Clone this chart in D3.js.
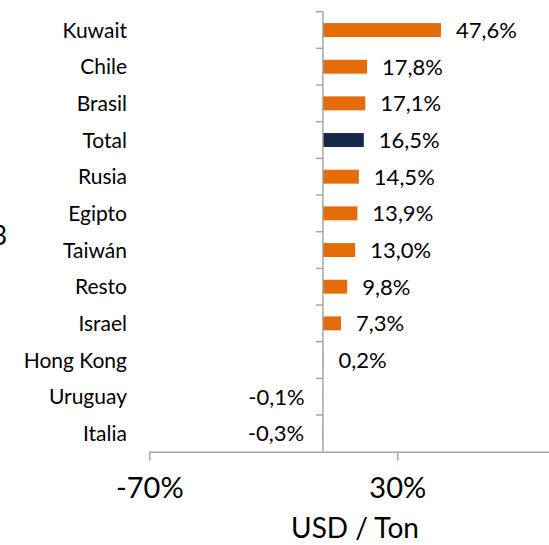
<!DOCTYPE html>
<html>
<head>
<meta charset="utf-8">
<script src="https://cdn.jsdelivr.net/npm/d3@7"></script>
<style>
  body { margin: 0; background: #fff; }
  svg { display: block; font-family: Lato, "Open Sans", sans-serif; }
</style>
</head>
<body>
<svg id="chart" width="549" height="545"></svg>
<script>
(() => {
  'use strict';

  const countries = ["Kuwait", "Chile", "Brasil", "Total", "Rusia", "Egipto", "Taiwán", "Resto", "Israel", "Hong Kong", "Uruguay", "Italia"];
  const changes = [47.6, 17.8, 17.1, 16.5, 14.5, 13.9, 13.0, 9.8, 7.3, 0.2, -0.1, -0.3];
  const xTicks = [-70, 30];
  const axisTitle = "USD / Ton";

  const orange = "#e46c0a", navy = "#15294a", axisGrey = "#a6a6a6";

  let svg = d3.select("#chart");

  // domain runs past the right edge, the picture is cropped there
  let x = d3.scaleLinear().domain([-70, 130]).range([149.3, 645.3]);
  let y = d3.scaleBand().domain(countries).range([11.7, 451.7])
    .paddingInner(0.62).paddingOuter(0.31);
  // category boundaries for the little ticks on the vertical axis
  let yEdge = d3.scaleLinear().domain([0, countries.length]).range([11.7, 451.7]);

  let fmt = v => d3.format(".1f")(v).replace(".", ",").replace("−", "-") + "%";

  let data = countries.map((c, i) => ({ name: c, value: changes[i] }));

  // bars
  svg.append("g").selectAll("rect")
    .data(data)
    .join("rect")
      .attr("x", d => x(Math.min(0, d.value)))
      .attr("y", d => y(d.name))
      .attr("width", d => Math.abs(x(d.value) - x(0)))
      .attr("height", y.bandwidth())
      .attr("fill", d => d.name === "Total" ? navy : orange);

  // x axis
  let xAxis = svg.append("g")
    .attr("transform", `translate(0,${yEdge(countries.length)})`)
    .call(d3.axisBottom(x).tickValues(xTicks).tickSize(9).tickSizeOuter(0).tickFormat(d => d + "%"));
  xAxis.select(".domain").attr("stroke", axisGrey).attr("stroke-width", 1.5);
  xAxis.selectAll(".tick line").attr("stroke", axisGrey).attr("stroke-width", 1.5);
  xAxis.selectAll(".tick text")
    .attr("y", 26)
    .attr("font-size", 29)
    .attr("fill", "#000")
    .attr("font-family", "Lato, sans-serif");

  // y axis at zero with ticks between categories
  let yAxis = svg.append("g");
  yAxis.append("line")
    .attr("x1", x(0)).attr("x2", x(0))
    .attr("y1", yEdge(0)).attr("y2", yEdge(countries.length))
    .attr("stroke", axisGrey).attr("stroke-width", 1.5);
  yAxis.selectAll("line.tk")
    .data(d3.range(countries.length))
    .join("line")
      .attr("class", "tk")
      .attr("x1", x(0) - 7).attr("x2", x(0))
      .attr("y1", i => yEdge(i)).attr("y2", i => yEdge(i))
      .attr("stroke", axisGrey).attr("stroke-width", 1.5);

  // category labels
  svg.append("g").selectAll("text")
    .data(data)
    .join("text")
      .attr("x", 127)
      .attr("y", d => y(d.name) + y.bandwidth() / 2)
      .attr("dy", "0.36em")
      .attr("text-anchor", "end")
      .attr("font-size", 21)
      .text(d => d.name);

  // value labels
  svg.append("g").selectAll("text")
    .data(data)
    .join("text")
      .attr("x", d => d.value >= 0 ? x(d.value) + 15 : x(d.value) - 18)
      .attr("y", d => y(d.name) + y.bandwidth() / 2)
      .attr("dy", "0.36em")
      .attr("text-anchor", d => d.value >= 0 ? "start" : "end")
      .attr("font-size", 22)
      .text(d => fmt(d.value));

  // axis title
  svg.append("text")
    .attr("x", 355).attr("y", 538)
    .attr("text-anchor", "middle")
    .attr("font-size", 28)
    .text(axisTitle);

  // clipped piece of the chart title at the left edge
  svg.append("text")
    .attr("x", 7).attr("y", 245)
    .attr("text-anchor", "end")
    .attr("font-size", 26)
    .text("3");
})();
</script>
</body>
</html>
